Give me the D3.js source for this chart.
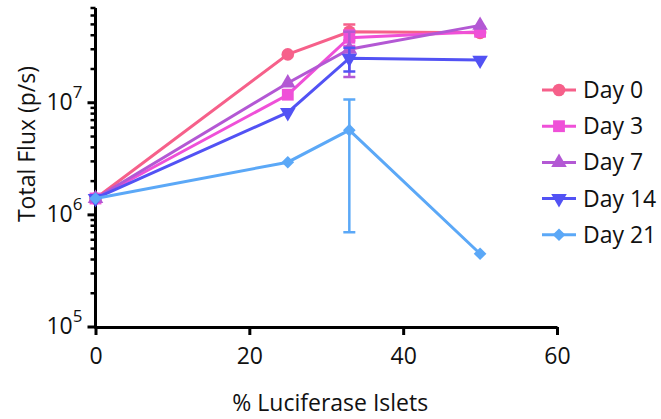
<!DOCTYPE html>
<html>
<head>
<meta charset="utf-8">
<script src="https://cdn.jsdelivr.net/npm/d3@7"></script>
<style>
body {margin:0;background:#fff;}
svg text {font-family:"Open Sans",sans-serif;fill:#111;}
</style>
</head>
<body>
<svg id="chart" width="661" height="419"></svg>
<script>
// data
var pct = [0, 25, 33, 50]
var days = ['Day 0', 'Day 3', 'Day 7', 'Day 14', 'Day 21']
var day0 = [1.4e6, 2.7e7, 4.3e7, 4.2e7]
var day3 = [1.4e6, 1.18e7, 3.8e7, 4.3e7]
var day7 = [1.4e6, 1.5e7, 3.0e7, 4.9e7]
var day14 = [1.4e6, 8.2e6, 2.5e7, 2.4e7]
var day21 = [1.4e6, 2.95e6, 5.7e6, 4.5e5]
var err0 = [0, 0, 0.7e7, 0]
var err3 = [0, 0, 0.6e7, 0]
var err7 = [0, 0, 1.3e7, 0]
var err14 = [0, 0, 0.6e7, 0]
var err21 = [0, 0, 5.0e6, 0]
var xTicks = [0, 20, 40, 60]
var yTicks = [1e5, 1e6, 1e7]

var colors = ['#f6608a', '#ef50d8', '#b358d4', '#5252f4', '#5ba8f7']
var symbols = [
  d3.symbol().type(d3.symbolCircle).size(125),
  d3.symbol().type(d3.symbolSquare).size(140),
  d3.symbol().type(d3.symbolTriangle).size(105),
  d3.symbol().type(d3.symbolTriangle).size(105),
  d3.symbol().type(d3.symbolSquare).size(80)
]
var rot = [0, 0, 0, 180, 45]
var series = [day0, day3, day7, day14, day21]
var errs = [err0, err3, err7, err14, err21]

var svg = d3.select('#chart')
var x = d3.scaleLinear().domain([0, 60]).range([95.5, 557])
var y = d3.scaleLog().domain([1e5, 7e7]).range([327, 8])

// axes
var xAxis = svg.append('g').attr('transform', 'translate(0,327)')
  .call(d3.axisBottom(x).tickValues(xTicks).tickSize(8).tickSizeOuter(0).tickFormat(d3.format('d')))
xAxis.select('.domain').attr('stroke', '#000').attr('stroke-width', 3)
xAxis.selectAll('.tick line').attr('stroke', '#000').attr('stroke-width', 3)
xAxis.selectAll('.tick text').attr('font-size', 23).attr('dy', 0).attr('y', 37)
  .attr('font-family', '"Open Sans",sans-serif').attr('fill', '#111')

var minor = []
for (var e = 5; e <= 7; e++) for (var m = 2; m <= 9; m++) if (m * Math.pow(10, e) <= 7e7) minor.push(m * Math.pow(10, e))

var yAxis = svg.append('g').attr('transform', 'translate(95.5,0)')
yAxis.append('line').attr('x1', 0).attr('x2', 0).attr('y1', y.range()[1]).attr('y2', 328.5)
  .attr('stroke', '#000').attr('stroke-width', 3)
yAxis.selectAll('.minor').data(minor).enter().append('line')
  .attr('x1', -5).attr('x2', 0).attr('y1', d => y(d)).attr('y2', d => y(d))
  .attr('stroke', '#000').attr('stroke-width', 2.5)
yAxis.selectAll('.major').data(yTicks).enter().append('line')
  .attr('x1', -8).attr('x2', 0).attr('y1', d => y(d)).attr('y2', d => y(d))
  .attr('stroke', '#000').attr('stroke-width', 3)
var yl = yAxis.selectAll('.lab').data(yTicks).enter().append('text')
  .attr('x', -13).attr('y', d => y(d) + 7).attr('text-anchor', 'end').attr('font-size', 23)
yl.append('tspan').text('10')
yl.append('tspan').attr('dy', -12).attr('font-size', 17).text(d => Math.round(Math.log10(d)))

// titles
svg.append('text').attr('x', x(30) + 4).attr('y', 411).attr('text-anchor', 'middle')
  .attr('font-size', 23).text('% Luciferase Islets')
svg.append('text').attr('transform', 'translate(35,144) rotate(-90)').attr('text-anchor', 'middle')
  .attr('font-size', 23).text('Total Flux (p/s)')

// series
var line = d3.line().x(d => x(d[0])).y(d => y(d[1]))
series.forEach(function (vals, i) {
  var g = svg.append('g')
  var pts = pct.map((p, j) => [p, vals[j], errs[i][j]])
  g.selectAll('.eb').data(pts.filter(d => d[2] > 0)).enter().append('path')
    .attr('d', function (d) {
      var cx = x(d[0]), top = y(d[1] + d[2]), bot = y(Math.max(d[1] - d[2], 1e5))
      return 'M' + (cx - 6) + ',' + top + 'H' + (cx + 6) + 'M' + cx + ',' + top + 'V' + bot + 'M' + (cx - 6) + ',' + bot + 'H' + (cx + 6)
    })
    .attr('stroke', colors[i]).attr('stroke-width', 2.5).attr('fill', 'none')
  g.append('path').datum(pts).attr('d', line)
    .attr('stroke', colors[i]).attr('stroke-width', 3).attr('fill', 'none')
  g.selectAll('.pt').data(pts).enter().append('path')
    .attr('d', symbols[i])
    .attr('transform', d => 'translate(' + x(d[0]) + ',' + y(d[1]) + ') rotate(' + rot[i] + ')')
    .attr('fill', colors[i])
})

// legend
var leg = svg.selectAll('.leg').data(days).enter().append('g')
  .attr('transform', (d, i) => 'translate(542,' + (90 + i * 36.2) + ')')
leg.append('line').attr('x1', 0).attr('x2', 34).attr('y1', 0).attr('y2', 0)
  .attr('stroke', (d, i) => colors[i]).attr('stroke-width', 3)
leg.append('path').attr('d', (d, i) => symbols[i]())
  .attr('transform', (d, i) => 'translate(17,0) rotate(' + rot[i] + ')')
  .attr('fill', (d, i) => colors[i])
leg.append('text').attr('x', 41).attr('y', 8).attr('font-size', 23).text(d => d)
</script>
</body>
</html>
